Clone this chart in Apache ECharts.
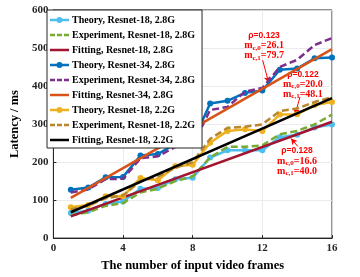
<!DOCTYPE html>
<html><head><meta charset="utf-8">
<script src="https://cdn.jsdelivr.net/npm/echarts@6/dist/echarts.min.js"></script>
<style>html,body{margin:0;padding:0;background:#fff}#c{width:360px;height:277px}</style>
</head><body><div id="c"></div>
<script>
var frames = [1,2,3,4,5,6,7,8,9,10,11,12,13,14,15,16];
var theoryR18_28 = [66,72,90,96,130,132,155,159,212,231,231,231,265,272,291,299];
var expR18_28    = [60,68,85,92,120,130,150,162,212,240,240,244,273,282,299,325];
var theoryR34    = [127,133,160,161,217,221,248,252,354,361,382,388,443,446,473,475];
var expR34       = [120,128,155,156,210,215,240,244,337,345,385,395,450,469,508,526];
var theoryR18_22 = [81,87,110,110,158,152,189,193,251,282,286,282,325,326,350,358];
var expR18_22    = [75,85,105,112,150,162,185,200,261,290,293,299,334,341,358,371];
var fitX = [1,16];
var fitR18_28 = [57,306];
var fitR34    = [106,497];
var fitR18_22 = [68,368];
var names = ['Theory, Resnet-18, 2.8G','Experiment, Resnet-18, 2.8G','Fitting, Resnet-18, 2.8G',
             'Theory, Resnet-34, 2.8G','Experiment, Resnet-34, 2.8G','Fitting, Resnet-34, 2.8G',
             'Theory, Resnet-18, 2.2G','Experiment, Resnet-18, 2.2G','Fitting, Resnet-18, 2.2G'];
var colors = ['#4DBEEE','#77AC30','#A2142F','#0072BD','#7E2F8E','#D95319','#EDB120','#B8862B','#000000'];
var xTicks = [0,4,8,12,16];
var yTicks = [0,100,200,300,400,500,600];

function pairs(xs, ys){ return ys.map(function(v,i){ return [xs[i], v]; }); }

var serif = 'Liberation Serif';
// legend icon shapes (19 x 8 box; tiny corner specks fix the bounding box)
var box = 'M0,0h0.01v0.01h-0.01zM18.99,7.99h0.01v0.01h-0.01z';
var iconTheory = 'path://' + box + 'M0,2.7h19v2.6h-19zM6.5,4a3,3 0 1,1 6,0a3,3 0 1,1 -6,0z';
var iconExp    = 'path://' + box + 'M0,2.7h5v2.6h-5zM7,2.7h5v2.6h-5zM14,2.7h5v2.6h-5z';
var iconFit    = 'path://' + box + 'M0,2.7h19v2.6h-19z';
var icons = [iconTheory, iconExp, iconFit];

var annoRich = {
  r: {fontFamily:'Liberation Sans', fontWeight:'bold', fontSize:8.5, color:'#FF0000', lineHeight:10},
  m: {fontFamily:serif, fontWeight:'bold', fontSize:10, color:'#FF0000', lineHeight:10},
  s: {fontFamily:serif, fontWeight:'bold', fontSize:7, color:'#FF0000', lineHeight:10, padding:[4,0,0,0]}
};
function anno(rho, m0, m1){
  return '{r|\u03c1=' + rho + '}\n{m|m}{s|c,0}{m|=' + m0 + '}\n{m|m}{s|c,1}{m|=' + m1 + '}';
}
function arrowLine(a, b){
  return {
    silent:true, symbol:['none','arrow'], symbolSize:[5,6],
    lineStyle:{color:'#FF0000', width:1, type:'solid'},
    label:{show:false},
    data:[[{coord:a},{coord:b}]]
  };
}
function annoPoint(c, text){
  return {
    silent:true, symbol:'circle', symbolSize:0,
    label:{show:true, position:'inside', formatter:text, rich:annoRich, align:'center'},
    data:[{coord:c}]
  };
}

function theory(i, ys){
  return {name:names[i], type:'line', data:pairs(frames, ys), symbol:'circle', symbolSize:6,
    showSymbol:true, lineStyle:{width:2.5, color:colors[i]}, itemStyle:{color:colors[i]}, z:2+i};
}
function exper(i, ys){
  return {name:names[i], type:'line', data:pairs(frames, ys), symbol:'none', showSymbol:false,
    lineStyle:{width:2.5, color:colors[i], type:[7,3.5]}, itemStyle:{color:colors[i]}, z:2+i};
}
function fit(i, ys){
  return {name:names[i], type:'line', data:pairs(fitX, ys), symbol:'none', showSymbol:false,
    lineStyle:{width:2.5, color:colors[i]}, itemStyle:{color:colors[i]}, z:2+i};
}

var s = [
  theory(0, theoryR18_28), exper(1, expR18_28), fit(2, fitR18_28),
  theory(3, theoryR34), exper(4, expR34), fit(5, fitR34),
  theory(6, theoryR18_22), exper(7, expR18_22), fit(8, fitR18_22)
];
s[2].markLine = arrowLine([14.04,241], [13.65,262]);
s[2].markPoint = annoPoint([13.99,203], anno('0.128','16.6','40.0'));
s[5].markLine = arrowLine([12.02,468], [12.36,409]);
s[5].markPoint = annoPoint([12.1,506], anno('0.123','26.1','79.7'));
s[8].markLine = arrowLine([14.16,371], [13.88,325]);
s[8].markPoint = annoPoint([14.33,404], anno('0.122','20.0','48.1'));

var chart = echarts.init(document.getElementById('c'), null, {renderer:'canvas'});
chart.setOption({
  animation:false,
  backgroundColor:'#fff',
  color:colors,
  grid:{left:47, right:28, top:10, bottom:31, show:true, borderColor:'#262626', borderWidth:1, backgroundColor:'transparent'},
  legend:{
    data:names.map(function(n,i){ return {name:n, icon:icons[i%3], itemStyle:{color:colors[i], borderWidth:0}}; }),
    orient:'vertical', left:47, top:10, itemWidth:19, itemHeight:8, itemGap:5,
    padding:[5,7,3,3], backgroundColor:'#fff', borderColor:'#262626', borderWidth:1, borderRadius:0,
    textStyle:{fontFamily:serif, fontWeight:'bold', fontSize:10, color:'#000', padding:[0,0,0,-2]},
    z:20
  },
  xAxis:{
    type:'value', min:0, max:16, interval:4,
    name:'The number of input video frames', nameLocation:'middle', nameGap:15,
    nameTextStyle:{fontFamily:serif, fontWeight:'bold', fontSize:12.5, color:'#000'},
    axisLine:{show:true, lineStyle:{color:'#262626', width:1}},
    axisTick:{show:true, inside:true, length:3, lineStyle:{color:'#262626'}},
    axisLabel:{fontFamily:serif, fontWeight:'bold', fontSize:11, color:'#262626', margin:5,
      formatter:function(v){ return xTicks.indexOf(v)>=0 ? String(v) : ''; }},
    splitLine:{show:true, lineStyle:{color:'#E6E6E6', width:0.8}}
  },
  yAxis:{
    type:'value', min:0, max:600, interval:100,
    name:'Latency / ms', nameLocation:'middle', nameGap:29,
    nameTextStyle:{fontFamily:serif, fontWeight:'bold', fontSize:12.5, color:'#000'},
    axisLine:{show:true, lineStyle:{color:'#262626', width:1}},
    axisTick:{show:true, inside:true, length:3, lineStyle:{color:'#262626'}},
    axisLabel:{fontFamily:serif, fontWeight:'bold', fontSize:11, color:'#262626', margin:5,
      formatter:function(v){ return yTicks.indexOf(v)>=0 ? String(v) : ''; }},
    splitLine:{show:true, lineStyle:{color:'#E6E6E6', width:0.8}}
  },
  series:s
});
</script></body></html>
